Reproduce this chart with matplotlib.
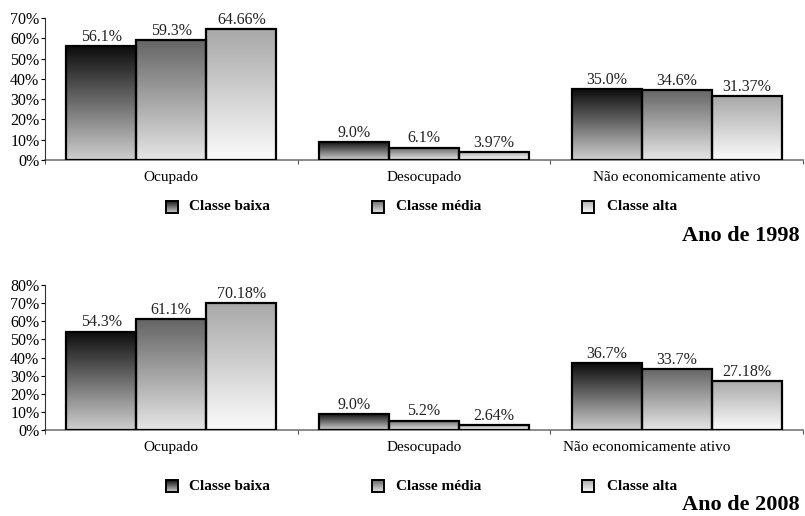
import matplotlib.pyplot as plt
import numpy as np
from matplotlib.colors import LinearSegmentedColormap
from matplotlib.patches import Rectangle

plt.rcParams['font.family'] = ['Liberation Serif', 'DejaVu Serif']

categorias = ["Ocupado", "Desocupado", "Não economicamente ativo"]
classes = ["Classe baixa", "Classe média", "Classe alta"]

baixa_1998 = [56.1, 9.0, 35.0]
media_1998 = [59.3, 6.1, 34.6]
alta_1998 = [64.66, 3.97, 31.37]
rotulos_1998 = [["56.1%", "9.0%", "35.0%"],
                ["59.3%", "6.1%", "34.6%"],
                ["64.66%", "3.97%", "31.37%"]]

baixa_2008 = [54.3, 9.0, 36.7]
media_2008 = [61.1, 5.2, 33.7]
alta_2008 = [70.18, 2.64, 27.18]
rotulos_2008 = [["54.3%", "9.0%", "36.7%"],
                ["61.1%", "5.2%", "33.7%"],
                ["70.18%", "2.64%", "27.18%"]]

# (topo, base) de cada gradiente
cores = [("#0c0c0c", "#cfcfcf"), ("#646464", "#e6e6e6"), ("#a8a8a8", "#fbfbfb")]
grad = np.linspace(0, 1, 256).reshape(-1, 1)
cmaps = [LinearSegmentedColormap.from_list("c%d" % i, [b, t]) for i, (t, b) in enumerate(cores)]

largura = 0.277


def painel(ax, series, rotulos, ymax, pos_rotulos):
    x = np.arange(len(categorias))
    for i, vals in enumerate(series):
        pos = x + (i - 1) * largura
        for j, (p, v) in enumerate(zip(pos, vals)):
            ax.imshow(grad, cmap=cmaps[i], origin="lower", aspect="auto",
                      extent=(p - largura / 2, p + largura / 2, 0, v), zorder=2)
            ax.text(p, v + ymax * 0.008, rotulos[i][j], ha="center", va="bottom",
                    fontsize=11.5, color="#222222")
        ax.bar(pos, vals, largura, fill=False, edgecolor="black", linewidth=1.6, zorder=3)
    ax.set_xlim(-0.5, 2.5)
    ax.set_ylim(0, ymax)
    ax.set_yticks(np.arange(0, ymax + 1, 10))
    ax.set_yticklabels(["%d%%" % v for v in np.arange(0, ymax + 1, 10)])
    ax.set_xticks([-0.5, 0.5, 1.5, 2.5])
    ax.set_xticklabels([])
    ax.set_xticks(pos_rotulos, minor=True)
    ax.set_xticklabels(categorias, minor=True)
    ax.tick_params(axis="x", which="minor", length=0, pad=8, labelsize=11)
    ax.tick_params(axis="x", which="major", length=3, color="#555555")
    ax.tick_params(axis="y", length=3, pad=1, labelsize=11.5)
    for s in ["top", "right"]:
        ax.spines[s].set_visible(False)
    ax.spines["left"].set_color("#333333")
    ax.spines["bottom"].set_color("#777777")
    ax.spines["bottom"].set_linewidth(1.2)
    ax.spines["bottom"].set_zorder(1)


def legenda(fig, y, ano, y_ano):
    W, H = 805, 516
    for i, (xm, xt) in enumerate([(172, 189), (378, 396), (588, 607)]):
        lax = fig.add_axes([(xm - 6) / W, 1 - (y + 6) / H, 12 / W, 12 / H])
        lax.imshow(grad, cmap=cmaps[i], origin="lower", aspect="auto", extent=(0, 1, 0, 1))
        lax.add_patch(Rectangle((0, 0), 1, 1, fill=False, edgecolor="black",
                                linewidth=1.4, transform=lax.transAxes, clip_on=False))
        lax.set_xticks([])
        lax.set_yticks([])
        for s in lax.spines.values():
            s.set_visible(False)
        fig.text(xt / W, 1 - y / H, classes[i], ha="left", va="center",
                 fontsize=11, fontweight="bold")
    fig.text(800 / W, 1 - y_ano / H, ano, ha="right", va="baseline",
             fontsize=16, fontweight="bold")


fig = plt.figure(figsize=(8.05, 5.16), dpi=100)
ax1 = fig.add_axes([45 / 805, 1 - 160 / 516, 758 / 805, 142 / 516])
painel(ax1, [baixa_1998, media_1998, alta_1998], rotulos_1998, 70, [0, 1, 2])
legenda(fig, 207, "Ano de 1998", 241)

ax2 = fig.add_axes([45 / 805, 1 - 430 / 516, 758 / 805, 145 / 516])
painel(ax2, [baixa_2008, media_2008, alta_2008], rotulos_2008, 80, [0, 1, 1.88])
legenda(fig, 486, "Ano de 2008", 510)

fig.savefig("out.png", dpi=100)
